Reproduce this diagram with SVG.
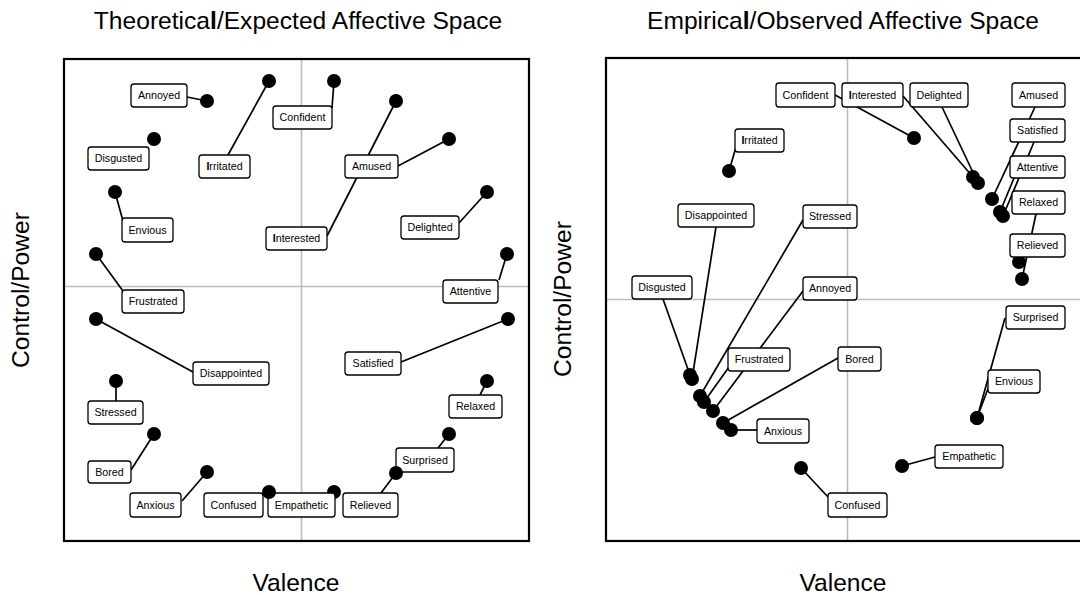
<svg xmlns="http://www.w3.org/2000/svg" width="1080" height="595" viewBox="0 0 1080 595">
<style>
.bg{fill:#fff}
.frame{fill:none;stroke:#000;stroke-width:2.2}
.grid{stroke:#bdbdbd;stroke-width:1.6;fill:none}
.seg line{stroke:#000;stroke-width:1.7}
.pt{fill:#000}
.box{fill:#fff;stroke:#000;stroke-width:1.3}
.lbl{font-family:"Liberation Sans",Arial,sans-serif;font-size:10.7px;fill:#000;text-anchor:middle}
.title{font-family:"Liberation Sans",Arial,sans-serif;font-size:24.6px;fill:#000;text-anchor:middle}
.b{font-weight:bold}
</style>
<rect class="bg" x="0" y="0" width="1080" height="595"/>
<!-- titles and axes -->
<text class="title" x="298" y="29">Theoretica<tspan class="b">l</tspan>/Expected Affective Space</text>
<text class="title" x="843" y="29">Empirica<tspan class="b">l</tspan>/Observed Affective Space</text>
<text class="title" x="296" y="591">Valence</text>
<text class="title" x="843" y="591">Valence</text>
<text class="title" transform="translate(29,290) rotate(-90)">Control/Power</text>
<text class="title" transform="translate(571,299) rotate(-90)">Control/Power</text>
<!-- grids -->
<g id="grid-left">
<line class="grid" x1="301.5" y1="59" x2="301.5" y2="541"/>
<line class="grid" x1="64" y1="286.5" x2="529" y2="286.5"/>
</g>
<g id="grid-right">
<line class="grid" x1="847.5" y1="58" x2="847.5" y2="541"/>
<line class="grid" x1="606" y1="299.5" x2="1082" y2="299.5"/>
</g>
<rect class="frame" x="64" y="59" width="465" height="482"/>
<rect class="frame" x="606" y="58" width="478" height="483"/>
<!-- connectors -->
<g id="connectors" class="seg">
<line x1="187" y1="97" x2="207" y2="101"/>
<line x1="228" y1="155" x2="269" y2="81"/>
<line x1="115" y1="192" x2="123" y2="221"/>
<line x1="96" y1="254" x2="123" y2="291"/>
<line x1="332" y1="108" x2="334" y2="81"/>
<line x1="327" y1="236" x2="396" y2="101"/>
<line x1="398" y1="166" x2="449" y2="139"/>
<line x1="459" y1="223" x2="487" y2="192"/>
<line x1="499" y1="280" x2="507" y2="254"/>
<line x1="401" y1="362" x2="508" y2="319"/>
<line x1="480" y1="395" x2="487" y2="381"/>
<line x1="438" y1="448" x2="449" y2="434"/>
<line x1="381" y1="493" x2="396" y2="473"/>
<line x1="182" y1="501" x2="207" y2="472"/>
<line x1="131" y1="470" x2="154" y2="434"/>
<line x1="116" y1="381" x2="116" y2="401"/>
<line x1="96" y1="319" x2="193" y2="372"/>
<line x1="835" y1="95" x2="914" y2="138"/>
<line x1="903" y1="96" x2="973" y2="177"/>
<line x1="942" y1="107" x2="978" y2="183"/>
<line x1="1035" y1="107" x2="992" y2="199"/>
<line x1="1034" y1="142" x2="1003" y2="216"/>
<line x1="1014" y1="178" x2="1000" y2="212"/>
<line x1="1036" y1="214" x2="1022" y2="279"/>
<line x1="736" y1="147" x2="729" y2="171"/>
<line x1="716" y1="227" x2="692" y2="379"/>
<line x1="663" y1="299" x2="690" y2="375"/>
<line x1="803" y1="220" x2="700" y2="396"/>
<line x1="803" y1="291" x2="713" y2="411"/>
<line x1="729" y1="367" x2="704" y2="402"/>
<line x1="838" y1="358" x2="723" y2="423"/>
<line x1="757" y1="430" x2="731" y2="430"/>
<line x1="828" y1="497" x2="801" y2="468"/>
<line x1="935" y1="457" x2="902" y2="466"/>
<line x1="1005" y1="318" x2="977" y2="418"/>
<line x1="989" y1="386" x2="977" y2="418"/>
</g>
<!-- left panel nodes -->
<g id="L-annoyed"><circle class="pt" cx="207" cy="101" r="7"/><rect class="box" x="131" y="84" width="56" height="23" rx="3"/><text class="lbl" x="159" y="99.3">Annoyed</text></g>
<g id="L-disgusted"><circle class="pt" cx="154" cy="139" r="7"/><rect class="box" x="88" y="147" width="61" height="23" rx="3"/><text class="lbl" x="118.5" y="162.3">Disgusted</text></g>
<g id="L-irritated"><circle class="pt" cx="269" cy="81" r="7"/><rect class="box" x="199" y="155" width="51" height="23" rx="3"/><text class="lbl" x="224.5" y="170.3"><tspan class="b">I</tspan>rritated</text></g>
<g id="L-envious"><circle class="pt" cx="115" cy="192" r="7"/><rect class="box" x="122" y="218" width="51" height="24" rx="3"/><text class="lbl" x="147.5" y="233.8">Envious</text></g>
<g id="L-frustrated"><circle class="pt" cx="96" cy="254" r="7"/><rect class="box" x="122" y="290" width="62" height="23" rx="3"/><text class="lbl" x="153" y="305.3">Frustrated</text></g>
<g id="L-confident"><circle class="pt" cx="334" cy="81" r="7"/><rect class="box" x="273" y="106" width="59" height="23" rx="3"/><text class="lbl" x="302.5" y="121.3">Confident</text></g>
<g id="L-interested"><circle class="pt" cx="396" cy="101" r="7"/><rect class="box" x="266" y="227" width="61" height="23" rx="3"/><text class="lbl" x="296.5" y="242.3"><tspan class="b">I</tspan>nterested</text></g>
<g id="L-amused"><circle class="pt" cx="449" cy="139" r="7"/><rect class="box" x="345" y="155" width="53" height="23" rx="3"/><text class="lbl" x="371.5" y="170.3">Amused</text></g>
<g id="L-delighted"><circle class="pt" cx="487" cy="192" r="7"/><rect class="box" x="401" y="216" width="58" height="23" rx="3"/><text class="lbl" x="430" y="231.3">Delighted</text></g>
<g id="L-attentive"><circle class="pt" cx="507" cy="254" r="7"/><rect class="box" x="443" y="280" width="55" height="23" rx="3"/><text class="lbl" x="470.5" y="295.3">Attentive</text></g>
<g id="L-satisfied"><circle class="pt" cx="508" cy="319" r="7"/><rect class="box" x="345" y="352" width="56" height="23" rx="3"/><text class="lbl" x="373" y="367.3">Satisfied</text></g>
<g id="L-relaxed"><circle class="pt" cx="487" cy="381" r="7"/><rect class="box" x="449" y="395" width="53" height="23" rx="3"/><text class="lbl" x="475.5" y="410.3">Relaxed</text></g>
<g id="L-surprised"><circle class="pt" cx="449" cy="434" r="7"/><rect class="box" x="396" y="448" width="58" height="24" rx="3"/><text class="lbl" x="425" y="463.8">Surprised</text></g>
<g id="L-relieved"><circle class="pt" cx="396" cy="473" r="7"/><rect class="box" x="343" y="493" width="55" height="24" rx="3"/><text class="lbl" x="370.5" y="508.8">Relieved</text></g>
<g id="L-empathetic"><circle class="pt" cx="334" cy="492" r="7"/><rect class="box" x="268" y="493" width="67" height="24" rx="3"/><text class="lbl" x="301.5" y="508.8">Empathetic</text></g>
<g id="L-confused"><circle class="pt" cx="269" cy="492" r="7"/><rect class="box" x="204" y="493" width="59" height="24" rx="3"/><text class="lbl" x="233.5" y="508.8">Confused</text></g>
<g id="L-anxious"><circle class="pt" cx="207" cy="472" r="7"/><rect class="box" x="130" y="493" width="51" height="24" rx="3"/><text class="lbl" x="155.5" y="508.8">Anxious</text></g>
<g id="L-bored"><circle class="pt" cx="154" cy="434" r="7"/><rect class="box" x="88" y="461" width="43" height="22" rx="3"/><text class="lbl" x="109.5" y="475.8">Bored</text></g>
<g id="L-stressed"><circle class="pt" cx="116" cy="381" r="7"/><rect class="box" x="88" y="401" width="55" height="23" rx="3"/><text class="lbl" x="115.5" y="416.3">Stressed</text></g>
<g id="L-disappointed"><circle class="pt" cx="96" cy="319" r="7"/><rect class="box" x="193" y="362" width="76" height="23" rx="3"/><text class="lbl" x="231" y="377.3">Disappointed</text></g>
<!-- right panel nodes -->
<g id="R-confident"><circle class="pt" cx="914" cy="138" r="7"/><rect class="box" x="776" y="83" width="59" height="24" rx="3"/><text class="lbl" x="805.5" y="98.8">Confident</text></g>
<g id="R-interested"><circle class="pt" cx="973" cy="177" r="7"/><rect class="box" x="842" y="83" width="61" height="24" rx="3"/><text class="lbl" x="872.5" y="98.8"><tspan class="b">I</tspan>nterested</text></g>
<g id="R-delighted"><circle class="pt" cx="978" cy="183" r="7"/><rect class="box" x="910" y="83" width="58" height="24" rx="3"/><text class="lbl" x="939" y="98.8">Delighted</text></g>
<g id="R-amused"><circle class="pt" cx="992" cy="199" r="7"/><rect class="box" x="1012" y="83" width="53" height="24" rx="3"/><text class="lbl" x="1038.5" y="98.8">Amused</text></g>
<g id="R-satisfied"><circle class="pt" cx="1003" cy="216" r="7"/><rect class="box" x="1010" y="119" width="55" height="23" rx="3"/><text class="lbl" x="1037.5" y="134.3">Satisfied</text></g>
<g id="R-attentive"><circle class="pt" cx="1000" cy="212" r="7"/><rect class="box" x="1010" y="156" width="55" height="22" rx="3"/><text class="lbl" x="1037.5" y="170.8">Attentive</text></g>
<g id="R-relaxed"><circle class="pt" cx="1022" cy="279" r="7"/><rect class="box" x="1012" y="191" width="53" height="23" rx="3"/><text class="lbl" x="1038.5" y="206.3">Relaxed</text></g>
<g id="R-relieved"><circle class="pt" cx="1019" cy="262" r="7"/><rect class="box" x="1010" y="234" width="55" height="23" rx="3"/><text class="lbl" x="1037.5" y="249.3">Relieved</text></g>
<g id="R-irritated"><circle class="pt" cx="729" cy="171" r="7"/><rect class="box" x="735" y="129" width="49" height="23" rx="3"/><text class="lbl" x="759.5" y="144.3"><tspan class="b">I</tspan>rritated</text></g>
<g id="R-disappointed"><circle class="pt" cx="692" cy="379" r="7"/><rect class="box" x="678" y="204" width="76" height="23" rx="3"/><text class="lbl" x="716" y="219.3">Disappointed</text></g>
<g id="R-disgusted"><circle class="pt" cx="690" cy="375" r="7"/><rect class="box" x="632" y="276" width="60" height="23" rx="3"/><text class="lbl" x="662" y="291.3">Disgusted</text></g>
<g id="R-stressed"><circle class="pt" cx="700" cy="396" r="7"/><rect class="box" x="803" y="205" width="54" height="23" rx="3"/><text class="lbl" x="830" y="220.3">Stressed</text></g>
<g id="R-annoyed"><circle class="pt" cx="713" cy="411" r="7"/><rect class="box" x="803" y="277" width="54" height="23" rx="3"/><text class="lbl" x="830" y="292.3">Annoyed</text></g>
<g id="R-frustrated"><circle class="pt" cx="704" cy="402" r="7"/><rect class="box" x="728" y="348" width="62" height="23" rx="3"/><text class="lbl" x="759" y="363.3">Frustrated</text></g>
<g id="R-bored"><circle class="pt" cx="723" cy="423" r="7"/><rect class="box" x="838" y="347" width="43" height="24" rx="3"/><text class="lbl" x="859.5" y="362.8">Bored</text></g>
<g id="R-anxious"><circle class="pt" cx="731" cy="430" r="7"/><rect class="box" x="757" y="419" width="52" height="24" rx="3"/><text class="lbl" x="783" y="434.8">Anxious</text></g>
<g id="R-confused"><circle class="pt" cx="801" cy="468" r="7"/><rect class="box" x="828" y="493" width="59" height="24" rx="3"/><text class="lbl" x="857.5" y="508.8">Confused</text></g>
<g id="R-empathetic"><circle class="pt" cx="902" cy="466" r="7"/><rect class="box" x="935" y="445" width="68" height="23" rx="3"/><text class="lbl" x="969" y="460.3">Empathetic</text></g>
<g id="R-surprised"><circle class="pt" cx="977" cy="418" r="7"/><rect class="box" x="1006" y="306" width="59" height="23" rx="3"/><text class="lbl" x="1035.5" y="321.3">Surprised</text></g>
<g id="R-envious"><circle class="pt" cx="977" cy="418" r="7"/><rect class="box" x="988" y="370" width="52" height="23" rx="3"/><text class="lbl" x="1014" y="385.3">Envious</text></g>
</svg>
